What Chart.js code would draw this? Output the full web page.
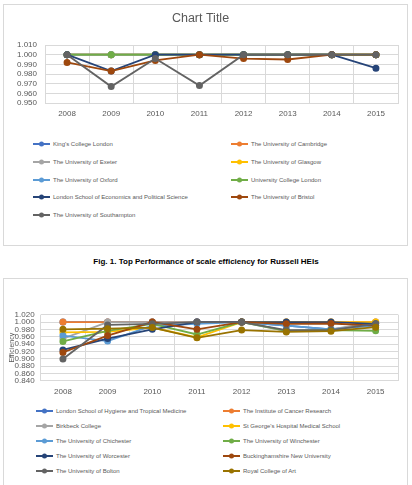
<!DOCTYPE html>
<html>
<head>
<meta charset="utf-8">
<script src="https://cdn.jsdelivr.net/npm/chart.js@4"></script>
<style>
  body { margin: 0; width: 412px; height: 485px; background: #fff; position: relative; overflow: hidden;
         font-family: 'Liberation Sans', Arial, sans-serif; }
  .box { position: absolute; left: 3px; width: 403px; border: 1px solid #d9d9d9; }
  #box1 { top: 4px; height: 240px; }
  #box2 { top: 278px; height: 215px; }
  canvas { position: absolute; }
  .item { position: absolute; display: flex; align-items: center; height: 8px; margin-top: -4px;
          font-family: 'Liberation Sans', Arial, sans-serif; font-size: 6px;
          color: #595959; white-space: nowrap; }
  .item svg { margin-right: 3px; }
  #caption { position: absolute; left: 0; width: 412px; top: 257px; text-align: center;
             font-weight: bold; font-size: 8px; color: #000; }
</style>
</head>
<body>
<div class="box" id="box1"></div>
<div class="box" id="box2"></div>
<canvas id="chart1" width="405" height="118" style="left:3px;top:4px"></canvas>
<div id="legend1"></div>
<div id="caption">Fig. 1. Top Performance of scale efficiency for Russell HEIs</div>
<canvas id="chart2" width="405" height="122" style="left:3px;top:278px"></canvas>
<div id="legend2"></div>
<script>
// years on the category axis
const years = ['2008', '2009', '2010', '2011', '2012', '2013', '2014', '2015'];

// Fig. 1 - Russell group
const russellNames = [
  "King's College London", 'The University of Cambridge',
  'The University of Exeter', 'The University of Glasgow',
  'The University of Oxford', 'University College London',
  'London School of Economics and Political Science', 'The University of Bristol',
  'The University of Southampton'
];
const kings       = [1.000, 1.000, 1.000, 1.000, 1.000, 1.000, 1.000, 1.000];
const cambridge   = [1.000, 1.000, 1.000, 1.000, 1.000, 1.000, 1.000, 1.000];
const exeter      = [1.000, 1.000, 1.000, 1.000, 1.000, 1.000, 1.000, 1.000];
const glasgow     = [1.000, 1.000, 1.000, 1.000, 1.000, 1.000, 1.000, 1.000];
const oxford      = [1.000, 1.000, 1.000, 1.000, 1.000, 1.000, 1.000, 1.000];
const ucl         = [1.000, 1.000, 1.000, 1.000, 1.000, 1.000, 1.000, 1.000];
const lse         = [1.000, 0.983, 1.000, 1.000, 1.000, 1.000, 1.000, 0.986];
const bristol     = [0.992, 0.983, 0.994, 1.000, 0.996, 0.995, 1.000, 1.000];
const southampton = [1.000, 0.967, 0.996, 0.968, 1.000, 1.000, 1.000, 1.000];

// Fig. 2 - other HEIs
const otherNames = [
  'London School of Hygiene and Tropical Medicine', 'The Institute of Cancer Research',
  'Birkbeck College', "St George's Hospital Medical School",
  'The University of Chichester', 'The University of Winchester',
  'The University of Worcester', 'Buckinghamshire New University',
  'The University of Bolton', 'Royal College of Art'
];
const lshtm      = [1.000, 1.000, 1.000, 1.000, 1.000, 0.990, 0.980, 0.995];
const icr        = [1.000, 1.000, 1.000, 1.000, 1.000, 1.000, 1.000, 1.000];
const birkbeck   = [0.955, 1.000, 1.000, 1.000, 1.000, 0.975, 0.980, 1.000];
const stGeorges  = [0.972, 0.973, 0.985, 0.958, 1.000, 1.000, 1.000, 1.000];
const chichester = [0.963, 0.948, 0.990, 0.995, 1.000, 0.990, 0.980, 0.990];
const winchester = [0.947, 0.976, 0.995, 0.966, 1.000, 0.976, 0.978, 0.976];
const worcester  = [0.924, 0.955, 0.980, 1.000, 1.000, 1.000, 1.000, 0.995];
const bucks      = [0.917, 0.963, 1.000, 0.980, 1.000, 0.995, 0.996, 0.990];
const bolton     = [0.899, 0.992, 0.995, 1.000, 1.000, 0.978, 0.978, 0.995];
const rca        = [0.980, 0.982, 0.985, 0.957, 0.978, 0.973, 0.975, 0.986];

// Office palette
const colours = ['#4472C4', '#ED7D31', '#A5A5A5', '#FFC000', '#5B9BD5',
                 '#70AD47', '#264478', '#9E480E', '#636363', '#997300'];

const TICK_FONT = { family: "'Liberation Sans', Arial, sans-serif", size: 8 };
const GRID = '#d9d9d9';

function makeDatasets(names, series) {
  return names.map((name, i) => ({
    label: name,
    data: series[i],
    borderColor: colours[i],
    backgroundColor: colours[i],
    borderWidth: 1.8,
    pointRadius: 2.6,
    pointHoverRadius: 2.6,
    tension: 0,
    order: names.length - i   // later series on top, like Excel
  }));
}

function makeChart(id, datasets, opts) {
  return new Chart(document.getElementById(id), {
    type: 'line',
    data: { labels: years, datasets: datasets },
    options: {
      responsive: false,
      animation: false,
      layout: { padding: { left: 0, right: 10, top: opts.top, bottom: 0 } },
      plugins: {
        legend: { display: false },
        tooltip: { enabled: false },
        title: opts.title || { display: false }
      },
      scales: {
        x: {
          offset: true,
          grid: { offset: true, color: GRID, drawTicks: false },
          border: { color: GRID },
          ticks: { color: '#595959', font: TICK_FONT, padding: 6, maxRotation: 0, autoSkip: false },
          afterFit: s => { s.height = opts.xHeight; }
        },
        y: {
          min: opts.min, max: opts.max,
          grid: { color: GRID, drawTicks: false },
          border: { display: false },
          title: opts.yTitle || { display: false },
          ticks: { stepSize: opts.step, autoSkip: false, color: '#595959', font: TICK_FONT,
                   padding: opts.yPad, callback: v => v.toFixed(3) },
          afterFit: s => { s.width = opts.yWidth; }
        }
      }
    }
  });
}

// HTML legend in two columns like the Excel one
function buildLegend(el, chart, cols, rows) {
  chart.data.datasets.forEach((ds, i) => {
    const d = document.createElement('div');
    d.className = 'item';
    d.style.left = cols[i % 2] + 'px';
    d.style.top = rows[Math.floor(i / 2)] + 'px';
    d.innerHTML = `<svg width="17" height="6"><line x1="0" y1="3" x2="17" y2="3" stroke="${ds.borderColor}" stroke-width="2"/>` +
                  `<circle cx="8.5" cy="3" r="2.5" fill="${ds.borderColor}"/></svg><span>${ds.label}</span>`;
    el.appendChild(d);
  });
}

const chart1 = makeChart('chart1',
  makeDatasets(russellNames, [kings, cambridge, exeter, glasgow, oxford, ucl, lse, bristol, southampton]),
  {
    min: 0.95, max: 1.01, step: 0.01, top: 0, xHeight: 19, yWidth: 42, yPad: 8,
    title: { display: true, text: 'Chart Title', color: '#595959',
             font: { family: "'Liberation Sans', Arial, sans-serif", size: 12.5, weight: 'normal' },
             padding: { top: 7, bottom: 19 } }
  });
buildLegend(document.getElementById('legend1'), chart1, [33, 231], [144, 162, 180, 197, 215]);

const chart2 = makeChart('chart2',
  makeDatasets(otherNames, [lshtm, icr, birkbeck, stGeorges, chichester, winchester, worcester, bucks, bolton, rca]),
  {
    min: 0.84, max: 1.02, step: 0.02, top: 36.7, xHeight: 19.3, yWidth: 37.6, yPad: 6,
    yTitle: { display: true, text: 'Efficiency', color: '#595959',
              font: { family: "'Liberation Sans', Arial, sans-serif", size: 7 }, padding: { top: 5, bottom: 0 } }
  });
buildLegend(document.getElementById('legend2'), chart2, [36, 223], [411, 426, 441, 456, 471]);
</script>
</body>
</html>
